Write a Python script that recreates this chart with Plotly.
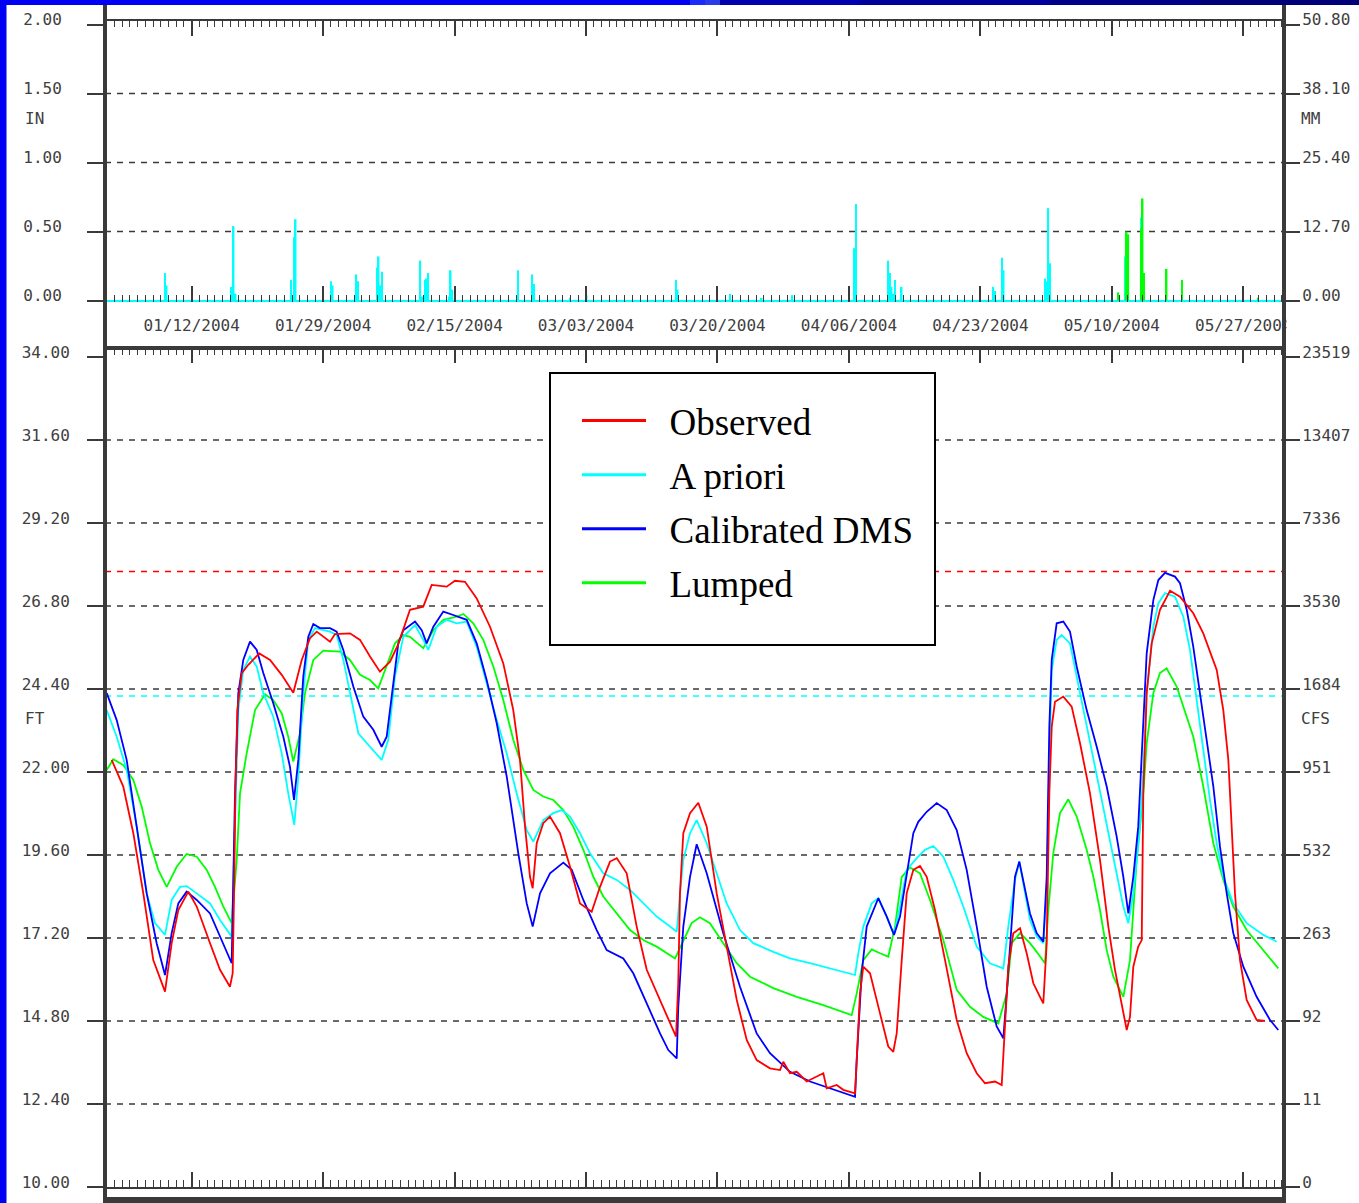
import numpy as np
import pandas as pd
import plotly.graph_objects as go

W, H = 1359, 1203
START = pd.Timestamp("2004-01-01")

# ---------------- precipitation (inches); time = days after 2004-01-01 00Z ----------------
map_day = [7.55, 7.77, 16.17, 16.43, 16.69, 23.84, 24.23, 24.45, 29.02, 29.24, 32.29, 32.51,
           34.97, 35.18, 35.39, 35.61, 40.57, 40.78, 41.17, 41.39, 41.60, 44.28, 44.50, 44.70,
           53.20, 55.05, 55.27, 59.93, 62.08, 73.64, 73.86, 80.62, 84.72, 88.68, 96.70, 96.92,
           101.09, 101.31, 101.53, 101.74, 101.96, 102.83, 114.67, 114.89, 115.80, 116.02,
           121.36, 121.58, 121.79, 122.01, 131.71, 133.78]
map_in = [0.20, 0.11, 0.10, 0.54, 0.05, 0.15, 0.46, 0.59, 0.14, 0.11, 0.19, 0.14,
          0.24, 0.32, 0.11, 0.21, 0.29, 0.03, 0.15, 0.16, 0.20, 0.03, 0.22, 0.08,
          0.22, 0.19, 0.12, 0.02, 0.04, 0.15, 0.08, 0.05, 0.02, 0.04, 0.38, 0.70,
          0.29, 0.20, 0.10, 0.05, 0.15, 0.10, 0.10, 0.07, 0.31, 0.22,
          0.16, 0.14, 0.67, 0.27, 0.32, 0.60]

lumped_map_day = [130.84, 131.93, 132.14, 133.78, 133.99, 134.16, 137.09, 139.11, 148.91]
lumped_map_in = [0.06, 0.50, 0.48, 0.52, 0.74, 0.20, 0.23, 0.15, 0.02]

# ---------------- stage (ft); time = days after 2004-01-01 00Z ----------------
obs_day = [0.65, 2.15, 3.45, 4.74, 6.03, 7.55, 8.41, 9.27, 10.56, 11.65, 13.37, 14.66, 15.95,
           16.30, 16.51, 16.64, 16.90, 17.47, 18.32, 19.74, 21.13, 22.64, 24.14, 24.66, 25.23,
           26.30, 27.17, 28.89, 29.53, 31.47, 32.77, 34.06, 35.35, 36.65, 37.72, 39.23, 40.95,
           42.04, 43.98, 45.05, 46.35, 47.86, 49.58, 51.30, 52.59, 53.46, 54.11, 54.75, 55.10,
           55.62, 56.47, 57.34, 58.63, 59.93, 61.22, 62.73, 63.81, 65.10, 65.97, 67.26, 68.55,
           69.85, 71.57, 73.64, 73.93, 74.15, 74.58, 75.45, 76.52, 77.61, 78.90, 80.19, 81.49,
           82.78, 84.07, 85.79, 87.09, 87.51, 88.38, 89.25, 90.54, 92.69, 93.13, 94.42, 95.27,
           96.79, 97.01, 97.43, 97.86, 98.73, 100.02, 101.09, 101.74, 102.18, 102.83, 103.47,
           104.33, 105.19, 106.06, 107.13, 108.43, 109.94, 111.23, 112.53, 113.60, 114.89,
           115.76, 116.19, 116.61, 117.26, 118.13, 118.99, 119.85, 120.71, 121.14, 121.58,
           121.92, 122.23, 122.65, 123.73, 124.81, 125.89, 127.18, 128.47, 129.55, 130.41,
           131.49, 131.93, 132.35, 132.78, 133.42, 133.87, 134.07, 134.51, 135.16, 136.23,
           137.53, 138.82, 140.54, 141.83, 143.57, 144.42, 145.07, 145.51, 145.93, 146.58,
           147.44, 148.73, 149.81]
obs_ft = [22.35, 21.58, 20.23, 18.49, 16.56, 15.65, 17.05, 18.01, 18.54, 18.11, 17.05, 16.28, 15.79,
          16.18, 18.97, 21.38, 23.79, 24.86, 25.10, 25.43, 25.24, 24.81, 24.29, 24.71, 25.24,
          25.87, 26.06, 25.77, 25.99, 26.01, 25.82, 25.34, 24.90, 25.19, 25.70, 26.69, 26.78,
          27.41, 27.36, 27.53, 27.50, 27.02, 26.20, 25.14, 23.79, 22.35, 20.42, 18.97, 18.64,
          19.94, 20.52, 20.71, 20.23, 19.26, 18.20, 17.96, 18.68, 19.41, 19.51, 19.07, 17.53,
          16.28, 15.41, 14.35, 15.89, 18.49, 20.23, 20.81, 21.11, 20.42, 18.49, 16.95, 15.41,
          14.25, 13.67, 13.43, 13.38, 13.62, 13.29, 13.33, 13.05, 13.29, 12.85, 12.95, 12.81,
          12.71, 13.67, 15.60, 16.37, 16.18, 15.02, 14.06, 13.91, 14.44, 16.56, 18.49,
          19.17, 19.28, 18.97, 18.01, 16.56, 14.83, 13.87, 13.29, 13.00, 13.05,
          12.95, 14.83, 16.37, 17.34, 17.48, 16.76, 15.89, 15.50, 15.31, 17.05,
          21.38, 23.31, 24.03, 24.18, 23.89, 22.83, 21.38, 19.46, 17.53, 16.28,
          15.02, 14.54, 14.92, 16.37, 16.95, 17.14, 21.38, 24.28, 25.72, 26.69,
          27.24, 27.07, 26.59, 26.01, 24.95, 23.79, 22.35, 20.42, 18.49, 16.56,
          15.41, 14.83, 14.80]

apriori_day = [0.01, 1.30, 2.59, 3.89, 5.18, 6.25, 7.55, 8.41, 9.49, 10.35, 11.65, 13.37, 14.66,
               16.17, 16.60, 17.03, 17.67, 18.54, 19.41, 20.26, 21.55, 22.64, 23.49, 24.27, 24.79,
               25.43, 26.08, 26.95, 28.89, 29.75, 30.61, 31.47, 32.55, 34.06, 35.57, 36.43, 37.29,
               38.37, 39.88, 40.95, 41.60, 42.69, 43.98, 45.27, 46.57, 47.86, 49.15, 50.45, 51.74,
               53.03, 54.33, 55.18, 56.47, 57.77, 58.85, 59.93, 61.22, 62.51, 64.23, 65.97, 67.69,
               69.41, 71.14, 72.86, 73.73, 74.15, 74.58, 75.45, 76.31, 77.61, 78.90, 80.19, 81.91,
               83.63, 86.22, 88.38, 90.97, 93.98, 96.79, 97.22, 97.86, 98.95, 99.80, 100.89,
               101.83, 102.61, 103.47, 104.77, 105.84, 106.91, 108.21, 109.50, 110.79, 112.53,
               114.24, 115.97, 116.61, 117.48, 118.04, 119.42, 120.28, 121.14, 121.58, 121.92,
               122.23, 122.87, 123.52, 124.59, 125.46, 126.75, 128.05, 129.34, 130.63, 131.49,
               132.14, 132.78, 133.65, 134.16, 134.51, 135.37, 136.02, 136.88, 138.17, 139.25,
               140.11, 140.98, 141.83, 142.70, 143.57, 144.42, 145.71, 147.44, 149.60, 151.33]
apriori_ft = [23.79, 23.02, 22.06, 20.42, 18.49, 17.63, 17.29, 18.30, 18.68, 18.70, 18.49, 18.20, 17.72,
              17.24, 20.42, 23.79, 24.95, 25.34, 25.05, 24.28, 23.60, 22.54, 21.38, 20.47, 21.87,
              24.28, 25.82, 26.16, 26.06, 25.96, 25.24, 24.28, 23.12, 22.73, 22.35, 22.93, 24.76,
              25.91, 26.25, 25.82, 25.53, 26.20, 26.40, 26.30, 26.35, 25.62, 24.57, 23.50, 22.54,
              21.38, 20.32, 19.99, 20.61, 20.81, 20.90, 20.71, 20.23, 19.65, 19.07, 18.88, 18.59,
              18.20, 17.82, 17.53, 17.38, 18.49, 19.46, 20.23, 20.61, 19.94, 19.07, 18.20, 17.43,
              17.05, 16.80, 16.61, 16.47, 16.30, 16.13, 16.76, 17.53, 18.20, 18.35, 17.82,
              17.29, 18.11, 19.17, 19.51, 19.75, 19.86, 19.55, 18.88, 18.11, 16.95,
              16.47, 16.32, 17.53, 18.88, 19.41, 17.72, 17.24, 17.05, 18.49, 22.35,
              24.95, 25.82, 25.96, 25.72, 24.76, 23.31, 21.87, 20.42, 19.07, 18.11,
              17.63, 18.49, 20.42, 22.35, 24.28, 26.20, 26.88, 27.17, 27.07, 26.49,
              25.53, 24.08, 22.54, 21.19, 19.94, 18.97, 18.20, 17.63, 17.29, 17.09]

dms_day = [0.01, 1.30, 2.59, 3.89, 5.18, 6.47, 7.55, 8.41, 9.27, 10.35, 11.65, 13.37, 14.66,
           16.17, 16.60, 17.03, 17.67, 18.54, 19.41, 20.26, 21.55, 22.85, 23.71, 24.23, 24.79,
           25.43, 26.08, 26.73, 27.59, 28.89, 29.75, 30.61, 31.90, 33.19, 34.49, 35.57, 36.22,
           37.07, 37.72, 38.37, 39.88, 40.75, 41.39, 42.25, 43.54, 44.83, 46.57, 47.86, 49.15,
           50.45, 51.74, 53.24, 54.33, 55.10, 56.05, 57.34, 59.06, 60.15, 61.65, 63.38, 64.67,
           66.82, 68.11, 69.85, 71.57, 72.64, 73.73, 73.93, 74.58, 75.45, 76.31, 77.61, 79.75,
           81.91, 84.07, 85.79, 88.38, 90.97, 93.55, 96.79, 97.01, 97.65, 98.30, 99.80, 100.89,
           101.83, 102.61, 103.47, 104.33, 104.97, 106.06, 107.35, 108.65, 109.94, 111.23,
           112.53, 113.82, 115.11, 115.97, 116.41, 117.05, 117.48, 118.04, 118.55, 119.42,
           120.28, 121.14, 121.58, 121.92, 122.23, 122.87, 123.73, 124.59, 125.46, 126.75,
           128.05, 129.34, 130.63, 131.49, 132.14, 132.78, 133.42, 134.07, 134.51, 135.37,
           136.02, 136.88, 138.17, 138.82, 139.69, 140.54, 141.41, 142.27, 143.13, 143.99,
           144.86, 145.71, 147.01, 148.73, 150.46, 151.53]
dms_ft = [24.28, 23.50, 22.35, 20.42, 18.49, 17.05, 16.13, 17.34, 18.20, 18.54, 18.30, 17.91, 17.24,
          16.47, 21.38, 24.28, 25.24, 25.77, 25.53, 24.86, 23.99, 23.02, 22.15, 21.19, 22.35,
          24.76, 25.91, 26.28, 26.16, 26.16, 26.06, 25.53, 24.47, 23.60, 23.22, 22.73, 23.02,
          24.47, 25.72, 26.10, 26.35, 26.10, 25.72, 26.20, 26.64, 26.54, 26.40, 25.72, 24.66,
          23.41, 21.87, 19.65, 18.20, 17.53, 18.49, 19.07, 19.38, 19.17, 18.30, 17.43, 16.85,
          16.61, 16.18, 15.31, 14.44, 13.96, 13.72, 15.21, 17.53, 18.97, 19.91, 19.07, 17.34,
          15.79, 14.44, 13.87, 13.33, 13.05, 12.85, 12.61, 13.67, 16.18, 17.53, 18.35, 17.82,
          17.29, 17.82, 18.97, 20.23, 20.56, 20.85, 21.10, 20.90, 20.32, 19.17,
          17.53, 15.79, 14.64, 14.30, 15.60, 17.53, 18.97, 19.41, 18.88, 17.91,
          17.34, 17.09, 18.97, 23.31, 25.24, 26.30, 26.35, 26.06, 25.05, 23.79,
          22.73, 21.58, 20.13, 18.97, 17.91, 18.97, 20.42, 23.31, 25.43, 26.97,
          27.55, 27.76, 27.65, 27.46, 26.69, 25.62, 24.28, 22.83, 21.58, 19.84,
          18.49, 17.34, 16.37, 15.50, 14.83, 14.54]

lumped_day = [0.01, 0.86, 2.15, 3.45, 4.53, 5.61, 6.68, 7.77, 9.06, 10.35, 11.65, 12.94, 14.01,
              15.09, 16.17, 16.82, 17.25, 18.11, 19.19, 20.48, 21.55, 22.64, 23.49, 24.14, 25.01,
              25.65, 26.73, 28.02, 30.18, 31.47, 32.77, 34.06, 35.13, 36.22, 37.29, 38.37, 39.23,
              40.95, 42.25, 43.54, 45.27, 46.13, 47.42, 48.71, 50.01, 51.30, 52.59, 53.89, 55.18,
              56.47, 57.77, 59.06, 60.35, 61.65, 62.94, 64.23, 65.97, 67.69, 69.41, 71.14, 73.51,
              74.58, 75.66, 76.73, 78.02, 79.75, 81.49, 83.21, 86.22, 89.25, 92.69, 96.36, 97.01,
              97.86, 98.95, 100.02, 101.09, 101.96, 102.83, 103.90, 105.19, 106.49, 108.21, 109.94,
              111.66, 113.38, 115.32, 116.41, 117.05, 118.13, 119.42, 120.28, 121.36, 121.79,
              122.43, 123.30, 124.37, 125.46, 126.75, 127.61, 128.47, 129.34, 130.20, 131.49,
              132.35, 133.22, 134.07, 134.51, 135.37, 136.23, 137.09, 138.39, 139.69, 140.54,
              141.83, 143.13, 144.42, 145.71, 147.44, 149.60, 151.53]
lumped_ft = [22.06, 22.37, 22.20, 21.77, 21.00, 19.94, 19.17, 18.68, 19.26, 19.63, 19.55, 19.17, 18.68,
             18.11, 17.63, 19.46, 21.38, 22.54, 23.79, 24.25, 24.08, 23.70, 23.02, 22.30, 23.12,
             24.28, 25.24, 25.51, 25.48, 25.24, 24.81, 24.66, 24.42, 25.05, 25.72, 25.96, 25.91,
             25.58, 26.10, 26.40, 26.49, 26.57, 26.30, 25.82, 25.05, 24.08, 22.93, 22.06, 21.48,
             21.29, 21.19, 20.90, 20.42, 19.75, 18.97, 18.40, 17.91, 17.43, 17.14, 16.95, 16.61,
             17.14, 17.63, 17.80, 17.63, 17.05, 16.47, 16.08, 15.75, 15.50, 15.26, 14.97, 15.60,
             16.56, 16.87, 16.76, 16.66, 17.53, 18.97, 19.24, 19.07, 18.30, 17.14, 15.70,
             15.21, 14.92, 14.73, 15.60, 17.05, 17.34, 17.05, 16.80, 16.47, 18.01,
             19.65, 20.81, 21.21, 20.71, 19.75, 18.97, 18.01, 16.85, 16.08, 15.50,
             16.56, 19.46, 21.38, 22.83, 24.28, 24.86, 25.00, 24.47, 23.60, 23.02,
             21.58, 19.94, 18.88, 18.11, 17.43, 16.85, 16.32]

FLOOD_STAGE_FT = 27.8
ACTION_STAGE_FT = 24.2

# ---------------- axis ticks ----------------
precip_in_ticks = [0.0, 0.5, 1.0, 1.5, 2.0]
precip_mm_ticks = [0.0, 12.7, 25.4, 38.1, 50.8]
stage_ticks = [10.0, 12.4, 14.8, 17.2, 19.6, 22.0, 24.4, 26.8, 29.2, 31.6, 34.0]
flow_tick_labels = ["0", "11", "92", "263", "532", "951", "1684", "3530", "7336", "13407", "23519"]
date_ticks = ["2004-01-12", "2004-01-29", "2004-02-15", "2004-03-03", "2004-03-20",
              "2004-04-06", "2004-04-23", "2004-05-10", "2004-05-27"]
X_RANGE = ["2003-12-31 18:53", "2004-06-01 06:29"]
PRECIP_RANGE = [-0.01, 2.0335]
STAGE_RANGE = [10.0, 34.26]

# ---------------- styling ----------------
INK = "#3a3a3a"
TXT = "#404040"
RED, CYAN, BLUE, GREEN = "#ff0000", "#00ffff", "#0000ff", "#00ff00"
MONO = dict(family="DejaVu Sans Mono", size=16, color=TXT)
GRID_DASH = "6px,6px"


def to_time(days):
    return START + pd.to_timedelta(np.asarray(days, dtype=float), unit="D")


def fx(px):
    return px / W


def fy(py):
    return 1 - py / H


X_DOM = [fx(105), fx(1284)]
TOP_DOM = [fy(302), fy(20)]
BOT_DOM = [fy(1187), fy(348)]

fig = go.Figure()

# precipitation spikes
bar_w = 0.2 * 86400000
fig.add_trace(go.Bar(x=to_time(map_day), y=map_in, width=bar_w,
                     marker=dict(color=CYAN, line=dict(width=0)),
                     xaxis="x", yaxis="y", showlegend=False, hoverinfo="skip"))
fig.add_trace(go.Bar(x=to_time(lumped_map_day), y=lumped_map_in, width=bar_w,
                     marker=dict(color=GREEN, line=dict(width=0)),
                     xaxis="x", yaxis="y", showlegend=False, hoverinfo="skip"))

# stage hydrographs
for days, vals, col in [(lumped_day, lumped_ft, GREEN), (apriori_day, apriori_ft, CYAN),
                        (dms_day, dms_ft, BLUE), (obs_day, obs_ft, RED)]:
    fig.add_trace(go.Scatter(x=to_time(days), y=vals, mode="lines",
                             line=dict(color=col, width=1.8),
                             xaxis="x2", yaxis="y2", showlegend=False, hoverinfo="skip"))

# empty traces that attach the metric / discharge scales on the right
fig.add_trace(go.Scatter(x=[None], y=[None], mode="lines", xaxis="x", yaxis="y3",
                         showlegend=False, hoverinfo="skip"))
fig.add_trace(go.Scatter(x=[None], y=[None], mode="lines", xaxis="x2", yaxis="y4",
                         showlegend=False, hoverinfo="skip"))

# legend entries
for i, (name, col) in enumerate([("Observed", RED), ("A priori", CYAN),
                                 ("Calibrated DMS", BLUE), ("Lumped", GREEN)]):
    fig.add_trace(go.Scatter(x=[None], y=[None], mode="lines", name="\u00a0\u00a0" + name,
                             line=dict(color=col, width=3), legendgroup=f"g{i}",
                             xaxis="x2", yaxis="y2"))

date_axis = dict(
    type="date", range=X_RANGE, domain=X_DOM, tickmode="array", tickvals=date_ticks,
    ticktext=[pd.Timestamp(d).strftime("%m/%d/%Y") for d in date_ticks],
    ticks="inside", tickcolor=INK, tickwidth=1.5, showgrid=False, zeroline=False,
    mirror="ticks", automargin=False, fixedrange=True,
    minor=dict(ticks="inside", dtick=86400000, tick0="2004-01-01", ticklen=7,
               tickcolor=INK, tickwidth=1, showgrid=False),
)

left_axis = dict(ticks="outside", ticklen=17, tickwidth=1.5, tickcolor=INK, showgrid=False,
                 showline=False, tickfont=MONO, ticklabelposition="outside top",
                 ticklabelshift=7, automargin=False, fixedrange=True)
right_axis = dict(ticks="outside", ticklen=15, tickwidth=1.5, tickcolor=INK, showgrid=False,
                  showline=False, zeroline=False, tickfont=MONO, ticklabelposition="outside top",
                  ticklabelshift=7, ticklabelstandoff=14, automargin=False, fixedrange=True,
                  side="right")

fig.update_layout(
    width=W, height=H, margin=dict(l=0, r=0, t=0, b=0),
    template="none", paper_bgcolor="white", plot_bgcolor="white",
    font=dict(family="DejaVu Sans Mono", color=TXT),
    barmode="overlay", hovermode=False,
    xaxis=dict(date_axis, anchor="y", ticklen=16, showline=False, tickfont=MONO,
               ticklabelstandoff=12),
    xaxis2=dict(date_axis, anchor="y2", ticklen=15, showline=True, linecolor=INK,
                linewidth=1.5, showticklabels=False),
    yaxis=dict(left_axis, domain=TOP_DOM, anchor="x", range=PRECIP_RANGE,
               tickvals=precip_in_ticks, ticktext=[f"{v:.2f}" for v in precip_in_ticks],
               zeroline=True, zerolinecolor=CYAN, zerolinewidth=2, ticklabelstandoff=39),
    yaxis3=dict(right_axis, overlaying="y", anchor="x",
                range=[v * 25.4 for v in PRECIP_RANGE],
                tickvals=precip_mm_ticks, ticktext=[f"{v:.2f}" for v in precip_mm_ticks]),
    yaxis2=dict(left_axis, domain=BOT_DOM, anchor="x2", range=STAGE_RANGE, zeroline=False,
                tickvals=stage_ticks, ticktext=[f"{v:.2f}" for v in stage_ticks],
                ticklabelstandoff=31),
    yaxis4=dict(right_axis, overlaying="y2", anchor="x2", range=STAGE_RANGE,
                tickvals=stage_ticks, ticktext=flow_tick_labels),
    legend=dict(x=fx(577), y=fy(390), xanchor="left", yanchor="top",
                bgcolor="rgba(0,0,0,0)", borderwidth=0, itemwidth=64,
                tracegroupgap=3, traceorder="grouped",
                font=dict(family="Liberation Serif", size=37, color="black")),
)

shapes = []
# dashed grid lines
for v in precip_in_ticks[1:-1]:
    shapes.append(dict(type="line", xref="x domain", x0=0, x1=1, yref="y", y0=v, y1=v,
                       layer="below", line=dict(color=INK, width=1.5, dash=GRID_DASH)))
for v in stage_ticks[1:-1]:
    shapes.append(dict(type="line", xref="x2 domain", x0=0, x1=1, yref="y2", y0=v, y1=v,
                       layer="below", line=dict(color=INK, width=1.5, dash=GRID_DASH)))
# flood / action stage
shapes.append(dict(type="line", xref="x2 domain", x0=0, x1=1, yref="y2",
                   y0=FLOOD_STAGE_FT, y1=FLOOD_STAGE_FT, layer="below",
                   line=dict(color=RED, width=1.5, dash=GRID_DASH)))
shapes.append(dict(type="line", xref="x2 domain", x0=0, x1=1, yref="y2",
                   y0=ACTION_STAGE_FT, y1=ACTION_STAGE_FT, layer="below",
                   line=dict(color=CYAN, width=1.5, dash=GRID_DASH)))


# frame
def paper_line(x0, y0, x1, y1, width):
    return dict(type="line", xref="paper", yref="paper", x0=fx(x0), x1=fx(x1),
                y0=fy(y0), y1=fy(y1), layer="above", line=dict(color=INK, width=width))


shapes += [
    paper_line(105, 20, 1284, 20, 2),
    paper_line(105, 348, 1284, 348, 4),
    paper_line(105, 0, 105, 1203, 4),
    paper_line(1284, 0, 1284, 1203, 4),
    dict(type="rect", xref="paper", yref="paper", x0=fx(103), x1=fx(1286),
         y0=fy(1203), y1=fy(1197), layer="above", line=dict(width=0), fillcolor=INK),
    # clip the date label that runs past the right frame
    dict(type="rect", xref="paper", yref="paper", x0=fx(1286.5), x1=fx(1299),
         y0=fy(338), y1=fy(308), layer="above", line=dict(width=0), fillcolor="white"),
    # legend box
    dict(type="rect", xref="paper", yref="paper", x0=fx(550), x1=fx(935),
         y0=fy(645), y1=fy(373), layer="above", line=dict(color="black", width=2),
         fillcolor="white"),
]

# slide-style blue banner along the top and left edges
banner = [(0, 690, "#0000f2"), (690, 705, "#1a2cf8"), (705, 720, "#2a3ce8"),
          (720, 860, "#0000b0"), (860, 1050, "#00009a"), (1050, 1200, "#000088"),
          (1200, 1359, "#000078")]
for x0, x1, col in banner:
    shapes.append(dict(type="rect", xref="paper", yref="paper", x0=fx(x0), x1=fx(x1),
                       y0=fy(5), y1=1, layer="above", line=dict(width=0), fillcolor=col))
shapes.append(dict(type="rect", xref="paper", yref="paper", x0=0, x1=fx(6.5), y0=0, y1=1,
                   layer="above", line=dict(width=0), fillcolor="#0000f2"))

fig.update_layout(shapes=shapes)

# axis unit labels
for text, x, y in [("IN", 23, 119), ("MM", 1299, 119), ("FT", 23, 718), ("CFS", 1299, 718)]:
    fig.add_annotation(text=text, xref="paper", yref="paper", x=fx(x), y=fy(y),
                       xanchor="left", yanchor="middle", showarrow=False, font=MONO)

fig.write_html("out.html")
